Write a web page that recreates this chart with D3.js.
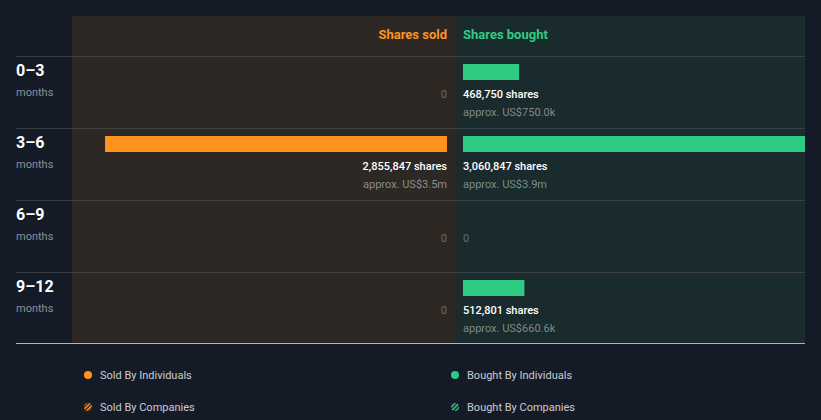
<!DOCTYPE html>
<html><head><meta charset="utf-8">
<script src="https://cdn.jsdelivr.net/npm/d3@7/dist/d3.min.js"></script>
<style>
html,body{margin:0;padding:0;background:#151b26;}
svg{display:block;font-family:Roboto,"Noto Sans",sans-serif;}
</style></head>
<body>
<svg id="chart" width="821" height="420"></svg>
<script>
const periods = ["0\u20133","3\u20136","6\u20139","9\u201312"];
const sharesSold = [0, 2855847, 0, 0];
const sharesBought = [468750, 3060847, 0, 512801];
const soldValue = ["", "approx. US$3.5m", "", ""];
const boughtValue = ["approx. US$750.0k", "approx. US$3.9m", "", "approx. US$660.6k"];
const legendItems = ["Sold By Individuals","Bought By Individuals","Sold By Companies","Bought By Companies"];

(function(){
const orange = "#ff931e", green = "#2ecc83";
const svg = d3.select("#chart");
const padL = 16, panelL = 72, mid = 455, padR = 805, padT = 16, headerB = 56, rowH = 72;

const defs = svg.append("defs");
[["hatchO",orange],["hatchG",green]].forEach(([id,c])=>{
  const p = defs.append("pattern").attr("id",id).attr("patternUnits","userSpaceOnUse")
    .attr("width",3).attr("height",3).attr("patternTransform","rotate(45)");
  p.append("rect").attr("width",3).attr("height",3).attr("fill","#151b26");
  p.append("rect").attr("width",1.6).attr("height",3).attr("fill",c);
});
defs.append("clipPath").attr("id","clipB").append("rect")
  .attr("x",mid).attr("y",padT).attr("width",padR-mid).attr("height",343-padT);

const y = d3.scaleBand().domain(periods).range([headerB, headerB + rowH*periods.length]);
const x = d3.scaleLinear().domain([0, d3.max(sharesBought)]).range([0, 366.5]);
const bottomY = headerB + rowH*periods.length - 1;

svg.append("rect").attr("x",panelL).attr("y",padT).attr("width",mid-panelL).attr("height",bottomY-padT).attr("fill","#2d2823");
svg.append("rect").attr("x",mid).attr("y",padT).attr("width",padR-mid).attr("height",bottomY-padT).attr("fill","#1a2b2e");

svg.append("text").attr("x",mid-8).attr("y",39).attr("text-anchor","end").attr("fill",orange)
  .attr("font-size",13).attr("font-weight",700).text("Shares sold");
svg.append("text").attr("x",mid+8).attr("y",39).attr("fill",green)
  .attr("font-size",13).attr("font-weight",700).text("Shares bought");

periods.forEach((p,i)=>{
  const ry = y(p);
  svg.append("line").attr("x1",padL).attr("x2",padR).attr("y1",ry+0.5).attr("y2",ry+0.5)
    .attr("stroke","#3c4044").attr("stroke-width",1);
  svg.append("text").attr("x",padL).attr("y",ry+20).attr("fill","#ffffff")
    .attr("font-size",16).attr("font-weight",700).text(p);
  svg.append("text").attr("x",padL).attr("y",ry+40).attr("fill","#8c9096")
    .attr("font-size",11).text("months");

  if (sharesSold[i] > 0) {
    svg.append("rect").attr("x",mid-8-x(sharesSold[i])).attr("y",ry+8)
      .attr("width",x(sharesSold[i])).attr("height",16).attr("fill",orange);
    svg.append("text").attr("x",mid-8).attr("y",ry+42).attr("text-anchor","end").attr("fill","#ffffff")
      .attr("font-size",11).attr("font-weight",500).text(d3.format(",")(sharesSold[i])+" shares");
    svg.append("text").attr("x",mid-8).attr("y",ry+60).attr("text-anchor","end").attr("fill","#8a8c8e")
      .attr("font-size",11).text(soldValue[i]);
  } else {
    svg.append("text").attr("x",mid-8).attr("y",ry+42).attr("text-anchor","end").attr("fill","#6b6b6b")
      .attr("font-size",11).text("0");
  }
  if (sharesBought[i] > 0) {
    svg.append("rect").attr("x",mid+8).attr("y",ry+8).attr("clip-path","url(#clipB)")
      .attr("width",x(sharesBought[i])).attr("height",16).attr("fill",green);
    svg.append("text").attr("x",mid+8).attr("y",ry+42).attr("fill","#ffffff")
      .attr("font-size",11).attr("font-weight",500).text(d3.format(",")(sharesBought[i])+" shares");
    svg.append("text").attr("x",mid+8).attr("y",ry+60).attr("fill","#7f8a8a")
      .attr("font-size",11).text(boughtValue[i]);
  } else {
    svg.append("text").attr("x",mid+8).attr("y",ry+42).attr("fill","#5f6d6d")
      .attr("font-size",11).text("0");
  }
});
svg.append("line").attr("x1",padL).attr("x2",padR).attr("y1",bottomY+0.5).attr("y2",bottomY+0.5)
  .attr("stroke","#b0b3b8").attr("stroke-width",1);

const legPos = [[88,375,orange],[455,375,green],[88,407,"url(#hatchO)"],[455,407,"url(#hatchG)"]];
legendItems.forEach((t,i)=>{
  const [lx,ly,c] = legPos[i];
  svg.append("circle").attr("cx",lx).attr("cy",ly).attr("r",4).attr("fill",c);
  svg.append("text").attr("x",lx+12).attr("y",ly+4).attr("fill","#c9cdd2").attr("font-size",11).text(t);
});
})();
</script>
</body></html>
